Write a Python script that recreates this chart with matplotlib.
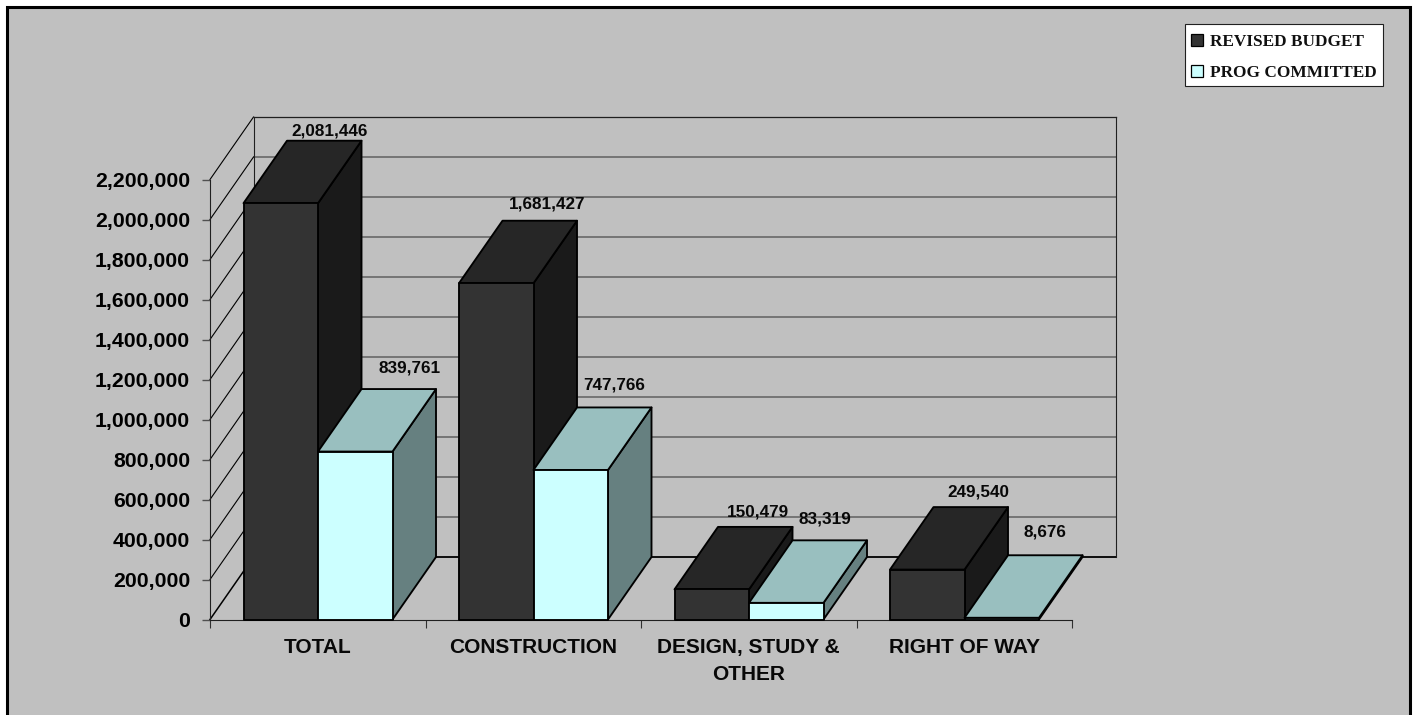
import matplotlib
matplotlib.use("Agg")
import matplotlib.pyplot as plt
from matplotlib.patches import Polygon, Rectangle, Patch
from matplotlib.ticker import FuncFormatter

categories = ["TOTAL", "CONSTRUCTION", "DESIGN, STUDY &\nOTHER", "RIGHT OF WAY"]
revised_budget = [2081446, 1681427, 150479, 249540]
prog_committed = [839761, 747766, 83319, 8676]
series_names = ["REVISED BUDGET", "PROG COMMITTED"]
y_ticks = list(range(0, 2200001, 200000))

W, H = 1414, 715
DPI = 100
fig = plt.figure(figsize=(W / DPI, H / DPI), dpi=DPI, facecolor="white")

# Chart-area panel; its bottom edge runs off the canvas
fig.patches.append(Rectangle((6.7 / W, -10 / H), (1410 - 6.7) / W, (707.7 + 10) / H,
                             transform=fig.transFigure, facecolor="#C0C0C0",
                             edgecolor="black", linewidth=2.2, zorder=-5))
# Legend box
fig.patches.append(Rectangle((1184.5 / W, 1 - 86 / H), (1383 - 1184.5) / W, (86 - 24) / H,
                             transform=fig.transFigure, facecolor="white",
                             edgecolor="#202020", linewidth=0.8, zorder=-4))

L, R, T, B = 210, 1072, 179.5, 619.5
ax = fig.add_axes([L / W, 1 - B / H, (R - L) / W, (B - T) / H])
ax.set_xlim(0, len(categories))
ax.set_ylim(0, 2200000)
ax.patch.set_visible(False)
for s in ["top", "right"]:
    ax.spines[s].set_visible(False)
for s in ["left", "bottom"]:
    ax.spines[s].set_linewidth(0.8)
    ax.spines[s].set_color("#202020")
    ax.spines[s].set_zorder(3)

# 3-D depth, in data units
DX = 43.5 / (R - L) * len(categories)
DY = 62.5 / (B - T) * 2200000

# Back wall + side wall grid
wall_kw = dict(clip_on=False, zorder=1)
for v in y_ticks:
    if v == 0:
        ax.plot([DX, DX + 4], [DY, DY], color="black", lw=1.3, **wall_kw)
    elif v == y_ticks[-1]:
        ax.plot([DX, DX + 4], [v + DY] * 2, color="#202020", lw=0.9, **wall_kw)
    else:
        ax.plot([DX, DX + 4], [v + DY] * 2, color="#606060", lw=1.1, **wall_kw)
    ax.plot([0, DX], [v, v + DY], color="black", lw=0.8 if v else 1.1, **wall_kw)
ax.plot([DX, DX], [DY, 2200000 + DY], color="#202020", lw=0.8, **wall_kw)
ax.plot([DX + 4, DX + 4], [DY, 2200000 + DY], color="#202020", lw=0.8, **wall_kw)

BAR_W = 74.5 / (R - L) * len(categories)
BAR_OFF = 33.5 / (R - L) * len(categories)
EDGE = 1.35

dark = ("#333333", "#262626", "#1A1A1A")
cyan = ("#CCFFFF", "#99BFBF", "#668080")


def bar3d(x, v, cols, z):
    kw = dict(edgecolor="black", linewidth=EDGE, joinstyle="round", clip_on=False, zorder=z)
    ax.add_patch(Polygon([(x + BAR_W, 0), (x + BAR_W + DX, DY), (x + BAR_W + DX, v + DY),
                          (x + BAR_W, v)], facecolor=cols[2], **kw))
    ax.add_patch(Polygon([(x, v), (x + BAR_W, v), (x + BAR_W + DX, v + DY), (x + DX, v + DY)],
                         facecolor=cols[1], **kw))
    ax.add_patch(Rectangle((x, 0), BAR_W, v, facecolor=cols[0], **kw))


for i in range(len(categories)):
    bar3d(i + BAR_OFF, revised_budget[i], dark, 4 + i)
    bar3d(i + BAR_OFF + BAR_W, prog_committed[i], cyan, 4.5 + i)

# Data labels: (dx, dy) in pixels from centre of a bar's rear top edge
off_budget = [(5, 10), (7, 17), (2.5, 15), (8, 15)]
off_prog = [(11, 21), (0, 22), (-5, 21), (0, 23)]
for i in range(len(categories)):
    for j, (vals, offs) in enumerate(((revised_budget, off_budget), (prog_committed, off_prog))):
        xc = i + BAR_OFF + BAR_W * (j + 0.5) + DX
        ax.annotate(f"{vals[i]:,}", xy=(xc, vals[i] + DY), xytext=offs[i],
                    textcoords="offset pixels", ha="center", va="center",
                    family="Liberation Sans", weight="bold", fontsize=12.3,
                    color="#080808", annotation_clip=False, zorder=20)

# Axes ticks and labels
ax.set_yticks(y_ticks)
ax.yaxis.set_major_formatter(FuncFormatter(lambda v, _: f"{int(v):,}"))
ax.tick_params(axis="y", length=5.8, width=1.0, color="#505050", pad=8.6,
               labelsize=15.3, labelcolor="black")
for t in ax.get_yticklabels():
    t.set_family("Liberation Sans")
    t.set_weight("bold")

ax.set_xticks(range(len(categories) + 1))
ax.set_xticklabels([])
ax.set_xticks([i + 0.5 for i in range(len(categories))], minor=True)
ax.set_xticklabels(categories, minor=True, family="Liberation Sans", weight="bold",
                   fontsize=15, color="#080808", linespacing=1.55)
ax.tick_params(axis="x", which="major", length=5.8, width=0.8, color="#303030")
ax.tick_params(axis="x", which="minor", length=0, pad=13)

# Legend
handles = [Patch(facecolor=dark[0], edgecolor="black", linewidth=0.9),
           Patch(facecolor=cyan[0], edgecolor="black", linewidth=0.9)]
leg = fig.legend(handles, series_names, loc="upper left",
                 bbox_to_anchor=(1191 / W, 1 - 34 / H), borderaxespad=0,
                 prop=dict(family="Liberation Serif", weight="bold", size=12.4),
                 frameon=False, handlelength=0.72, handleheight=0.72,
                 handletextpad=0.4, labelspacing=0.86, borderpad=0,
                 labelcolor="#101010")
leg.set_zorder(30)

fig.savefig("out.png", dpi=DPI, facecolor="white")
